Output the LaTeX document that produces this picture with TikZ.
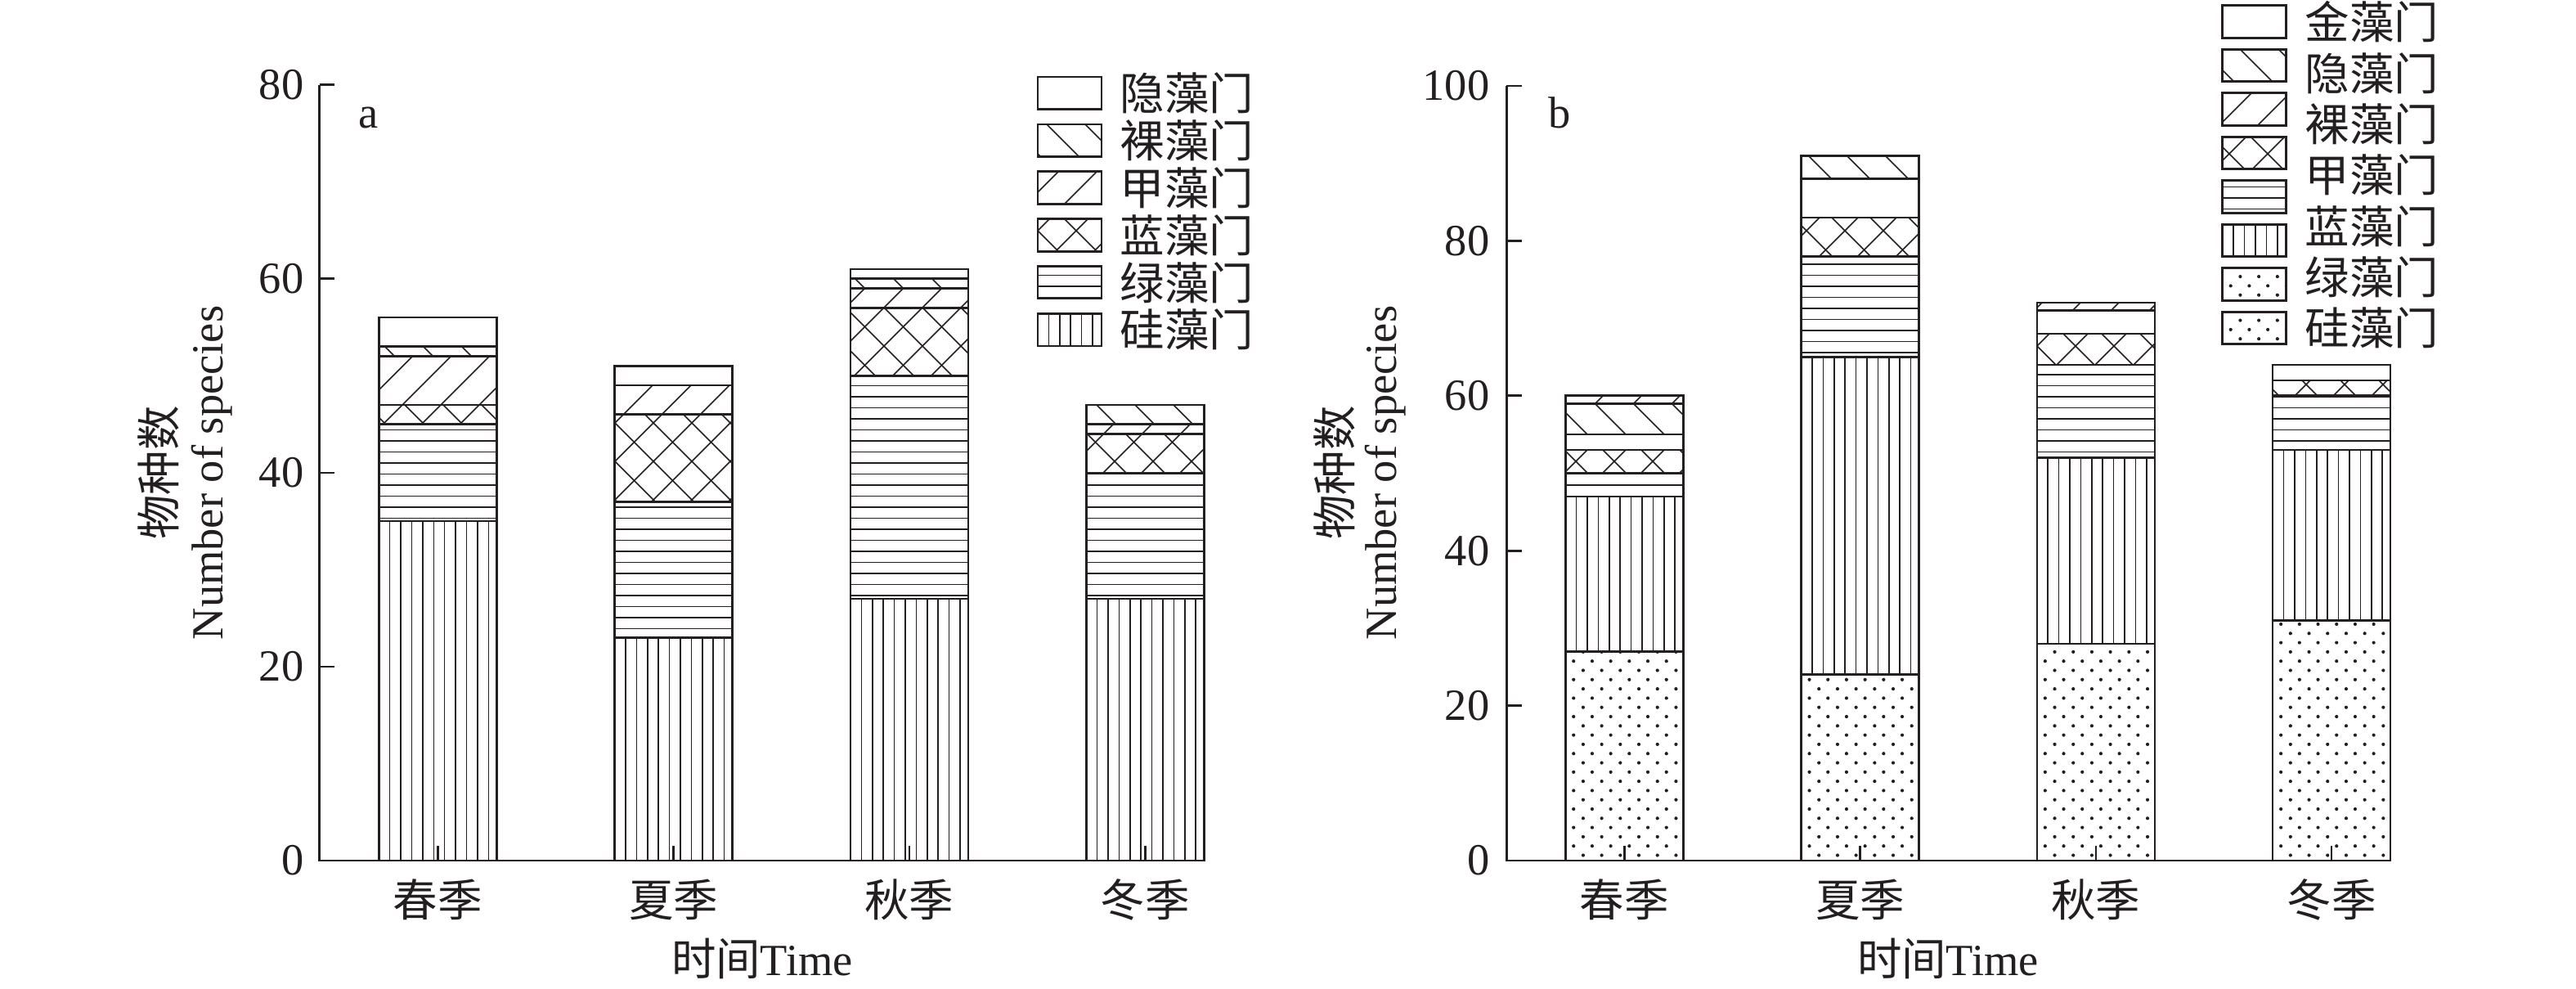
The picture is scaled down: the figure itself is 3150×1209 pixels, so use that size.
\documentclass[tikz,border=0pt]{standalone}
\usepackage{fontspec}
\setmainfont{Liberation Serif}
\newfontfamily\cjk{Noto Sans CJK SC}
\definecolor{ink}{HTML}{231F20}
\tikzset{
  outl/.style={draw=ink, line width=0.75pt},
  htch/.style={draw=ink, line width=0.45pt},
  axisl/.style={draw=ink, line width=0.75pt},
  lbl/.style={inner sep=0pt, text=ink, font=\fontsize{15.5pt}{18pt}\selectfont},
}
% pattern helpers (use \xa,\xb, \ya = bottom pixel, \yb = top pixel)
\newcommand\patE{}
\newcommand\patV{\foreach \ii in {1,...,12}{\draw[htch] ({\xa+13.4*\ii},\ya) -- ({\xa+13.4*\ii},\yb);}}
\newcommand\patH{%
  \pgfmathtruncatemacro\ka{ceil((1052-\ya)/13.5)}%
  \pgfmathtruncatemacro\kb{floor((1052-\yb)/13.5)}%
  \ifnum\kb<\ka\else
  \foreach \kk in {\ka,...,\kb}{\draw[htch] (\xa,{1052-13.5*\kk}) -- (\xb,{1052-13.5*\kk});}%
  \fi}
\newcommand\patD{%
  \pgfmathtruncatemacro\ka{floor((\xa+\yb)/47)}%
  \pgfmathtruncatemacro\kb{ceil((\xb+\ya)/47)}%
  \foreach \kk in {\ka,...,\kb}{\draw[htch] ({47*\kk-\ya},\ya) -- ({47*\kk-\yb},\yb);}}
\newcommand\patB{%
  \pgfmathtruncatemacro\ka{floor((\xa-\ya)/47)}%
  \pgfmathtruncatemacro\kb{ceil((\xb-\yb)/47)}%
  \foreach \kk in {\ka,...,\kb}{\draw[htch] ({47*\kk+\ya},\ya) -- ({47*\kk+\yb},\yb);}}
\newcommand\patX{\patD\patB}
\newcommand\patO{%
  \pgfmathtruncatemacro\rn{floor((\ya-\yb-6.5)/11.3)}%
  \foreach \rr in {0,...,\rn}{%
    \pgfmathsetmacro\doty{\ya-6.5-11.3*\rr}%
    \pgfmathsetmacro\dotx{\xa+ifthenelse(mod(\rr,2)==0,21.7,10)}%
    \foreach \jj in {0,...,6}{\fill[ink] ({\dotx+22.7*\jj},\doty) circle[radius=0.21mm];}}}
\newcommand\fillpat[1]{\begin{scope}\clip (\xa,\ya) rectangle (\xb,\yb);\csname pat#1\endcsname\end{scope}}
\newcommand\mkseg[4]{%
  \pgfmathsetmacro\ya{1052-\vsc*#2}%
  \pgfmathsetmacro\yb{1052-\vsc*#3}%
  \pgfmathsetmacro\xa{#1-72}%
  \pgfmathsetmacro\xb{#1+72}%
  \fillpat{#4}%
  \draw[outl] (\xa,\ya) rectangle (\xb,\yb);}
\newcommand\legbox[3]{%
  \pgfmathsetmacro\xa{#1}%
  \pgfmathsetmacro\xb{#1+78}%
  \pgfmathsetmacro\yb{#2}%
  \pgfmathsetmacro\ya{#2+39.5}%
  \fillpat{#3}%
  \draw[outl] (\xa,\ya) rectangle (\xb,\yb);}
\begin{document}
\begin{tikzpicture}[x=0.1mm,y=-0.1mm]
\fill[white] (0,0) rectangle (3150,1209);
\useasboundingbox (0,0) rectangle (3150,1209);

% ================= Panel a =================
\def\vsc{11.854}
\mkseg{535.3}{0}{35}{V}\mkseg{535.3}{35}{45}{H}\mkseg{535.3}{45}{47}{X}\mkseg{535.3}{47}{52}{D}\mkseg{535.3}{52}{53}{B}\mkseg{535.3}{53}{56}{E}
\mkseg{823.6}{0}{23}{V}\mkseg{823.6}{23}{37}{H}\mkseg{823.6}{37}{46}{X}\mkseg{823.6}{46}{49}{D}\mkseg{823.6}{49}{51}{E}
\mkseg{1111.9}{0}{27}{V}\mkseg{1111.9}{27}{50}{H}\mkseg{1111.9}{50}{57}{X}\mkseg{1111.9}{57}{59}{D}\mkseg{1111.9}{59}{60}{B}\mkseg{1111.9}{60}{61}{E}
\mkseg{1400.2}{0}{27}{V}\mkseg{1400.2}{27}{40}{H}\mkseg{1400.2}{40}{44}{X}\mkseg{1400.2}{44}{45}{D}\mkseg{1400.2}{45}{47}{B}

\coordinate (aTop) at (390.7,103.7);
\coordinate (aO) at (390.7,1052);
\coordinate (aEnd) at (1472,1052);
\draw[axisl] (aTop) -- (aO) -- (aEnd);
\foreach \v in {20,40,60,80}{\draw[axisl] (390.7,{1052-11.854*\v}) -- ++(18.5,0);}
\foreach \cx in {535.3,823.6,1111.9,1400.2}{\draw[axisl] (\cx,1052) -- (\cx,1034);}
\node[lbl,anchor=east] (a0) at (372,1052) {0};
\node[lbl,anchor=east] (a20) at (372,814.9) {20};
\node[lbl,anchor=east] (a40) at (372,577.8) {40};
\node[lbl,anchor=east] (a60) at (372,340.8) {60};
\node[lbl,anchor=east] (a80) at (372,103.7) {80};
\node[lbl,anchor=base west] (alab) at (438,157) {a};
\node[lbl] (ax1) at (535.3,1100) {\cjk 春季};
\node[lbl] (ax2) at (823.6,1100) {\cjk 夏季};
\node[lbl] (ax3) at (1111.9,1100) {\cjk 秋季};
\node[lbl] (ax4) at (1400.2,1100) {\cjk 冬季};
\node[lbl] (axt) at (932,1172) {{\cjk 时间}Time};
\node[lbl,rotate=90] (ay1) at (194,578) {\cjk 物种数};
\node[lbl,rotate=90] (ay2) at (259,578) {Number of species};

% legend a
\legbox{1269}{94}{E}\legbox{1269}{151.9}{B}\legbox{1269}{209.8}{D}\legbox{1269}{267.7}{X}\legbox{1269}{325.6}{H}\legbox{1269}{383.5}{V}
\node[lbl,anchor=west] (la1) at (1369,113.75) {\cjk 隐藻门};
\node[lbl,anchor=west] (la2) at (1369,171.65) {\cjk 裸藻门};
\node[lbl,anchor=west] (la3) at (1369,229.55) {\cjk 甲藻门};
\node[lbl,anchor=west] (la4) at (1369,287.45) {\cjk 蓝藻门};
\node[lbl,anchor=west] (la5) at (1369,345.35) {\cjk 绿藻门};
\node[lbl,anchor=west] (la6) at (1369,403.25) {\cjk 硅藻门};

% ================= Panel b =================
\def\vsc{9.47}
\mkseg{1986.2}{0}{27}{O}\mkseg{1986.2}{27}{47}{V}\mkseg{1986.2}{47}{50}{H}\mkseg{1986.2}{50}{53}{X}\mkseg{1986.2}{53}{55}{E}\mkseg{1986.2}{55}{59}{B}\mkseg{1986.2}{59}{60}{D}
\mkseg{2274.5}{0}{24}{O}\mkseg{2274.5}{24}{65}{V}\mkseg{2274.5}{65}{78}{H}\mkseg{2274.5}{78}{83}{X}\mkseg{2274.5}{83}{88}{E}\mkseg{2274.5}{88}{91}{B}
\mkseg{2562.8}{0}{28}{O}\mkseg{2562.8}{28}{52}{V}\mkseg{2562.8}{52}{64}{H}\mkseg{2562.8}{64}{68}{X}\mkseg{2562.8}{68}{71}{E}\mkseg{2562.8}{71}{72}{D}
\mkseg{2851.1}{0}{31}{O}\mkseg{2851.1}{31}{53}{V}\mkseg{2851.1}{53}{60}{H}\mkseg{2851.1}{60}{62}{X}\mkseg{2851.1}{62}{64}{E}

\coordinate (bTop) at (1842.3,105);
\coordinate (bO) at (1842.3,1052);
\coordinate (bEnd) at (2923,1052);
\draw[axisl] (bTop) -- (bO) -- (bEnd);
\foreach \v in {20,40,60,80,100}{\draw[axisl] (1842.3,{1052-9.47*\v}) -- ++(18.5,0);}
\foreach \cx in {1986.2,2274.5,2562.8,2851.1}{\draw[axisl] (\cx,1052) -- (\cx,1034);}
\node[lbl,anchor=east] (b0) at (1822,1052) {0};
\node[lbl,anchor=east] (b20) at (1822,862.6) {20};
\node[lbl,anchor=east] (b40) at (1822,673.2) {40};
\node[lbl,anchor=east] (b60) at (1822,483.8) {60};
\node[lbl,anchor=east] (b80) at (1822,294.4) {80};
\node[lbl,anchor=east] (b100) at (1822,105) {100};
\node[lbl,anchor=base west] (blab) at (1893,157) {b};
\node[lbl] (bx1) at (1986.2,1100) {\cjk 春季};
\node[lbl] (bx2) at (2274.5,1100) {\cjk 夏季};
\node[lbl] (bx3) at (2562.8,1100) {\cjk 秋季};
\node[lbl] (bx4) at (2851.1,1100) {\cjk 冬季};
\node[lbl] (bxt) at (2382,1172) {{\cjk 时间}Time};
\node[lbl,rotate=90] (by1) at (1632,578) {\cjk 物种数};
\node[lbl,rotate=90] (by2) at (1694,578) {Number of species};

% legend b
\legbox{2717.7}{6.7}{E}\legbox{2717.7}{60.2}{B}\legbox{2717.7}{113.7}{D}\legbox{2717.7}{167.2}{X}\legbox{2717.7}{220.7}{H}\legbox{2717.7}{274.2}{V}\legbox{2717.7}{327.7}{O}\legbox{2717.7}{381.2}{O}
\node[lbl,anchor=west] (lb1) at (2818,27) {\cjk 金藻门};
\node[lbl,anchor=west] (lb2) at (2818,89.5) {\cjk 隐藻门};
\node[lbl,anchor=west] (lb3) at (2818,152) {\cjk 裸藻门};
\node[lbl,anchor=west] (lb4) at (2818,214) {\cjk 甲藻门};
\node[lbl,anchor=west] (lb5) at (2818,276.5) {\cjk 蓝藻门};
\node[lbl,anchor=west] (lb6) at (2818,339) {\cjk 绿藻门};
\node[lbl,anchor=west] (lb7) at (2818,401) {\cjk 硅藻门};
\end{tikzpicture}
\end{document}
